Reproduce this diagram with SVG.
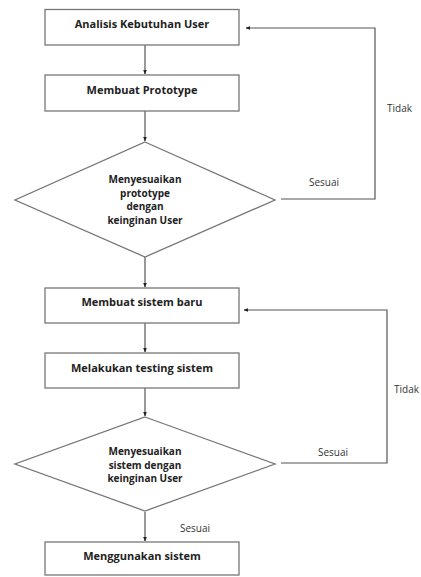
<svg xmlns="http://www.w3.org/2000/svg" width="421" height="577" viewBox="0 0 421 577">
<defs>
<marker id="ah" viewBox="0 0 10 10" refX="9" refY="5" markerWidth="4" markerHeight="4" orient="auto"><path d="M0,1 L10,5 L0,9 Z" fill="#222"/></marker>
<style>
.box{fill:#fff;stroke:#777;stroke-width:1.3}
.nt{font-family:"Open Sans","Liberation Sans",sans-serif;font-weight:bold;font-size:11px;fill:#222;text-anchor:middle}
.dt{font-family:"Open Sans","Liberation Sans",sans-serif;font-weight:bold;font-size:10px;fill:#222;text-anchor:middle}
.lb{font-family:"Open Sans","Liberation Sans",sans-serif;font-size:10px;fill:#333}
.cn{fill:none;stroke:#555;stroke-width:1.2}
</style>
</defs>
<rect width="421" height="577" fill="#fff"/>
<g id="connectors">
<line class="cn" x1="145" y1="45" x2="145" y2="74" marker-end="url(#ah)"/>
<line class="cn" x1="145" y1="111" x2="145" y2="141" marker-end="url(#ah)"/>
<line class="cn" x1="145" y1="257" x2="145" y2="287" marker-end="url(#ah)"/>
<line class="cn" x1="145" y1="323" x2="145" y2="352" marker-end="url(#ah)"/>
<line class="cn" x1="145" y1="388" x2="145" y2="416" marker-end="url(#ah)"/>
<line class="cn" x1="145" y1="512" x2="145" y2="541" marker-end="url(#ah)"/>
<polyline class="cn" points="281,199 375,199 375,28 246,28" marker-end="url(#ah)"/>
<polyline class="cn" points="281,463 387,463 387,310 244,310" marker-end="url(#ah)"/>
<text class="lb" x="309" y="186">Sesuai</text>
<text class="lb" x="387" y="112">Tidak</text>
<text class="lb" x="318" y="456">Sesuai</text>
<text class="lb" x="394" y="393">Tidak</text>
<text class="lb" x="180" y="532">Sesuai</text>
</g>
<g id="n1"><rect class="box" x="45" y="9.5" width="194" height="35.5"/><text class="nt" x="142" y="28">Analisis Kebutuhan User</text></g>
<g id="n2"><rect class="box" x="45" y="75" width="194" height="36"/><text class="nt" x="142" y="94">Membuat Prototype</text></g>
<g id="n3"><polygon class="box" points="145,142 275,200 145,257 15,200"/>
<text class="dt" x="145" y="183">Menyesuaikan</text>
<text class="dt" x="145" y="196.5">prototype</text>
<text class="dt" x="145" y="210">dengan</text>
<text class="dt" x="145" y="223.5">keinginan User</text></g>
<g id="n4"><rect class="box" x="45" y="288" width="194" height="35"/><text class="nt" x="142" y="306">Membuat sistem baru</text></g>
<g id="n5"><rect class="box" x="45" y="353" width="194" height="35"/><text class="nt" x="142" y="372">Melakukan testing sistem</text></g>
<g id="n6"><polygon class="box" points="145,417 275,464 145,511 15,464"/>
<text class="dt" x="145" y="455">Menyesuaikan</text>
<text class="dt" x="145" y="468.5">sistem dengan</text>
<text class="dt" x="145" y="482">keinginan User</text></g>
<g id="n7"><rect class="box" x="45" y="542" width="194" height="33"/><text class="nt" x="142" y="560">Menggunakan sistem</text></g>
</svg>
